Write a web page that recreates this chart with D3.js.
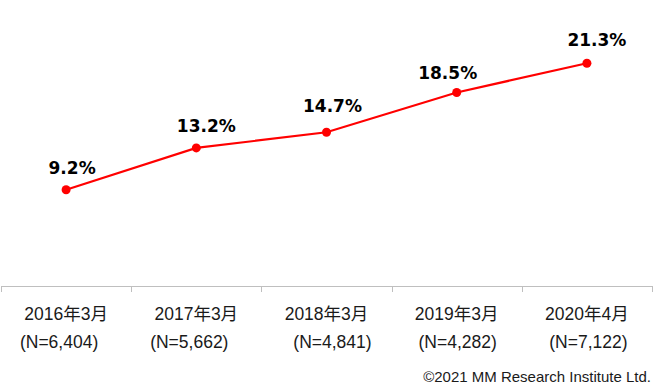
<!DOCTYPE html>
<html>
<head>
<meta charset="utf-8">
<script src="https://cdn.jsdelivr.net/npm/d3@7"></script>
<style>
  html, body { margin: 0; padding: 0; background: #ffffff; }
  svg { display: block; }
</style>
</head>
<body>
<svg id="chart" width="665" height="392"></svg>
<script>
// ---- data ----
const categories = ["2016年3月", "2017年3月", "2018年3月", "2019年3月", "2020年4月"];
const sampleSizes = ["(N=6,404)", "(N=5,662)", "(N=4,841)", "(N=4,282)", "(N=7,122)"];
const values = [9.2, 13.2, 14.7, 18.5, 21.3];
const valueLabels = ["9.2%", "13.2%", "14.7%", "18.5%", "21.3%"];
const credit = "©2021 MM Research Institute Ltd.";

// ---- layout / style ----
const svg = d3.select("#chart");
const axisY = 286;
const x = d3.scaleBand().domain(categories).range([1, 652]).padding(0);
const y = d3.scaleLinear().domain([0, 25]).range([axisY, 24.5]);
const red = "#ff0000";
// manual nudges of the labels as placed in the reference
const labelNudge = [[6, -16], [10, -15.5], [6, -20.5], [-9, -13.5], [10, -17.5]];
const sampleNudge = [-7, -7, 6, 1, 1.5];

// axis
const xAxis = d3.axisBottom(x).tickSize(6).tickFormat("").tickSizeOuter(6);
const gAxis = svg.append("g").attr("transform", `translate(0,${axisY})`).call(xAxis);
gAxis.selectAll(".tick").remove();
const bounds = categories.map(c => x(c)).concat([x(categories[categories.length - 1]) + x.bandwidth()]);
gAxis.select(".domain")
  .attr("stroke", "#bfbfbf").attr("stroke-width", 1)
  .attr("d", `M${Math.round(bounds[0]) + 0.5},0.5H${Math.round(bounds[bounds.length - 1]) + 0.5}`);
gAxis.selectAll("line.bound").data(bounds).join("line")
  .attr("class", "bound")
  .attr("x1", d => Math.round(d) + 0.5).attr("x2", d => Math.round(d) + 0.5)
  .attr("y1", 0).attr("y2", 6)
  .attr("stroke", "#bfbfbf").attr("stroke-width", 1);

// category labels
const cx = c => x(c) + x.bandwidth() / 2;
svg.append("g").selectAll("text").data(categories).join("text")
  .attr("x", d => cx(d)).attr("y", 320)
  .attr("text-anchor", "middle")
  .attr("font-family", "'Liberation Sans', 'Noto Sans CJK JP', sans-serif")
  .attr("font-size", "17.5px").attr("fill", "#1a1a1a")
  .text(d => d);

svg.append("g").selectAll("text").data(sampleSizes).join("text")
  .attr("x", (d, i) => cx(categories[i]) + sampleNudge[i]).attr("y", 348)
  .attr("text-anchor", "middle")
  .attr("font-family", "'Liberation Sans', 'Noto Sans CJK JP', sans-serif")
  .attr("font-size", "17.5px").attr("fill", "#1a1a1a")
  .text(d => d);

// line
const line = d3.line().x((d, i) => cx(categories[i])).y(d => y(d));
svg.append("path").datum(values)
  .attr("d", line).attr("fill", "none")
  .attr("stroke", red).attr("stroke-width", 2.2);

svg.append("g").selectAll("circle").data(values).join("circle")
  .attr("cx", (d, i) => cx(categories[i])).attr("cy", d => y(d))
  .attr("r", 4.5).attr("fill", red);

// value labels
svg.append("g").selectAll("text").data(values).join("text")
  .attr("x", (d, i) => cx(categories[i]) + labelNudge[i][0])
  .attr("y", (d, i) => y(d) + labelNudge[i][1])
  .attr("text-anchor", "middle")
  .attr("font-family", "'DejaVu Sans', sans-serif")
  .attr("font-weight", "bold").attr("font-size", "17px").attr("fill", "#000")
  .text((d, i) => valueLabels[i]);

// credit
svg.append("text")
  .attr("x", 651).attr("y", 382)
  .attr("text-anchor", "end")
  .attr("font-family", "'Liberation Sans', sans-serif")
  .attr("font-size", "15px").attr("fill", "#1a1a1a")
  .text(credit);
</script>
</body>
</html>
